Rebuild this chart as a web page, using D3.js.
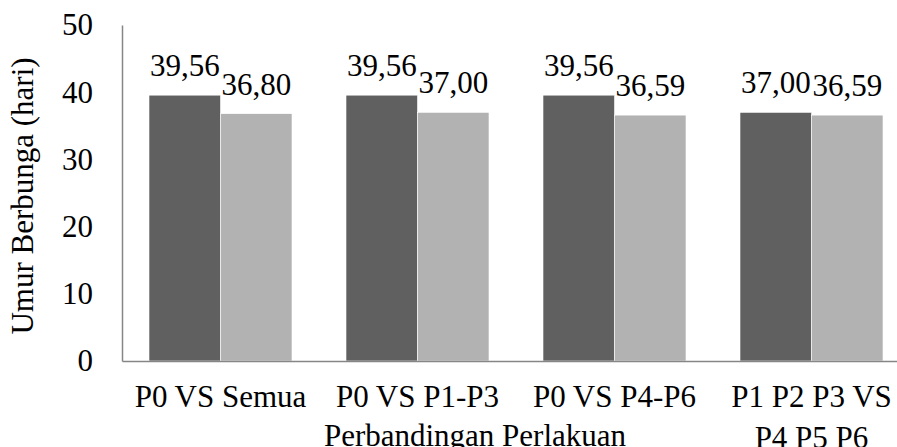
<!DOCTYPE html>
<html>
<head>
<meta charset="utf-8">
<script src="https://cdn.jsdelivr.net/npm/d3@7"></script>
</head>
<body style="margin:0;padding:0;background:#fff">
<svg id="chart" width="897" height="447" style="display:block"></svg>
<script>
const categories = [["P0 VS Semua"], ["P0 VS P1-P3"], ["P0 VS P4-P6"], ["P1 P2 P3 VS", "P4 P5 P6"]];
const seriesA = [39.56, 39.56, 39.56, 37.00];
const seriesB = [36.80, 37.00, 36.59, 36.59];
const yTicks = [0, 10, 20, 30, 40, 50];
const yTitle = "Umur Berbunga (hari)";
const xTitle = "Perbandingan Perlakuan";

const FONT = "'Liberation Serif', Tinos, serif";
const svg = d3.select("#chart")
  .attr("font-family", FONT).attr("font-size", 31);
const mLeft = 122, mRight = 910, mTop = 25, mBottom = 361;

const x0 = d3.scaleBand().domain(d3.range(categories.length)).range([mLeft, mRight]).paddingInner(54/197).paddingOuter(27/197);
const x1 = d3.scaleBand().domain([0, 1]).range([0, x0.bandwidth()]);
const y = d3.scaleLinear().domain([0, 50]).range([mBottom, mTop]);
const colors = ["#606060", "#b2b2b2"];

function txt(sel) {
  return sel.style("font-family", FONT).style("font-size", "31px").attr("fill", "#000");
}

const data = categories.map((c, i) => ({i, vals: [seriesA[i], seriesB[i]]}));

const g = svg.append("g");
data.forEach(d => {
  d.vals.forEach((v, k) => {
    g.append("rect")
      .attr("x", x0(d.i) + x1(k))
      .attr("y", y(v))
      .attr("width", x1.bandwidth())
      .attr("height", y(0) - y(v))
      .attr("fill", colors[k])
      .attr("stroke", "#ffffff")
      .attr("stroke-width", 0.6);
    txt(g.append("text"))
      .attr("x", x0(d.i) + x1(k) + x1.bandwidth() / 2)
      .attr("y", y(v) - 19)
      .attr("text-anchor", "middle")
      .text(v.toFixed(2).replace(".", ","));
  });
});

// Y axis
const yAxis = d3.axisLeft(y).tickValues(yTicks).tickSize(0).tickPadding(0);
const ya = svg.append("g").attr("transform", `translate(${mLeft},0)`).call(yAxis)
  .attr("font-family", FONT).attr("font-size", 31);
ya.select(".domain").attr("stroke", "#868686").attr("stroke-width", 1.5);
txt(ya.selectAll("text")).attr("x", 93 - mLeft);

// X axis
const xa = svg.append("g").attr("transform", `translate(0,${mBottom})`)
  .call(d3.axisBottom(x0).tickSize(0).tickFormat(""));
xa.select(".domain").attr("stroke", "#868686").attr("stroke-width", 1.5);

categories.forEach((lines, i) => {
  const t = txt(svg.append("text"))
    .attr("x", x0(i) + x0.bandwidth() / 2)
    .attr("y", 407)
    .attr("text-anchor", "middle");
  lines.forEach((ln, j) => {
    t.append("tspan").attr("x", x0(i) + x0.bandwidth() / 2).attr("dy", j === 0 ? 0 : 41).text(ln);
  });
});

txt(svg.append("text"))
  .attr("x", 475).attr("y", 446)
  .attr("text-anchor", "middle")
  .text(xTitle);

txt(svg.append("text"))
  .attr("transform", "translate(33,196) rotate(-90)")
  .attr("text-anchor", "middle")
  .text(yTitle);
</script>
</body>
</html>
